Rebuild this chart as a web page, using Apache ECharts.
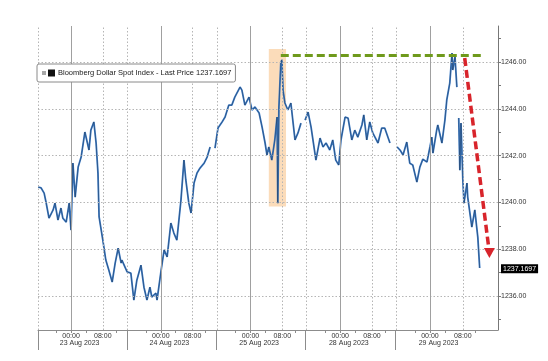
<!DOCTYPE html>
<html><head><meta charset="utf-8">
<script src="https://cdn.jsdelivr.net/npm/echarts@6/dist/echarts.min.js"></script>
<style>html,body{margin:0;padding:0;background:#fff}#c{width:548px;height:361px}</style>
</head><body><div id="c"></div>
<script>
// x = trading hours since 22 Aug 2023 00:00 (weekend removed)
const hours = [15.2,16.0,16.8,17.3,18.1,19.2,19.7,20.5,21.3,21.8,22.7,23.5,24.0,24.5,25.1,25.9,26.7,27.7,28.8,29.3,30.1,30.7,31.2,31.5,32.5,33.3,34.1,35.0,35.8,36.6,37.4,37.6,39.0,40.0,40.8,41.6,42.7,43.5,44.3,45.1,45.6,46.7,47.0,48.1,48.9,49.7,50.7,51.5,52.3,53.4,54.2,54.7,55.5,56.1,56.9,57.7,58.5,59.6,60.4,61.2,61.8,62.5,63.3,64.4,65.2,66.2,67.0,67.8,69.2,69.7,70.5,71.6,72.4,73.2,74.3,75.1,75.9,76.4,76.9,77.7,78.5,79.1,79.3,79.6,80.1,80.4,80.7,81.2,82.0,82.8,83.9,84.7,85.5,86.0,86.6,87.4,88.2,89.5,90.6,91.4,92.2,93.2,94.0,94.8,95.6,96.2,97.3,98.1,99.1,99.9,100.7,101.8,102.3,103.1,103.9,104.7,106.1,107.1,107.9,109.3,110.2,111.2,112.0,112.8,113.8,114.6,115.4,116.5,117.3,118.1,119.2,120.0,120.5,120.8,121.8,122.1,123.2,124.0,124.5,125.3,125.9,126.1,126.7,127.2,127.5,127.7,128.0,128.3,128.8,129.1,129.9,130.1,131.2,132.0,132.5,132.8,133.3];
const price = [1240.66,1240.62,1240.40,1240.02,1239.33,1239.68,1239.97,1239.25,1239.76,1239.33,1239.16,1239.97,1238.82,1241.68,1240.23,1241.51,1241.94,1243.01,1242.24,1243.09,1243.44,1242.54,1241.26,1239.38,1238.39,1237.54,1237.11,1236.60,1237.41,1238.05,1237.41,1237.54,1237.03,1236.98,1235.83,1236.68,1237.32,1236.38,1235.83,1236.38,1235.96,1236.13,1235.83,1237.11,1237.97,1237.67,1239.12,1238.69,1238.39,1240.10,1241.81,1240.96,1239.97,1239.55,1240.83,1241.26,1241.47,1241.68,1241.94,1242.37,null,1242.32,1243.18,1243.44,1243.65,1244.16,1244.16,1244.50,1244.93,1244.80,1244.16,1244.50,1243.95,1244.08,1243.82,1243.22,1242.54,1242.03,1242.37,1241.81,1242.67,1243.65,1239.97,1244.08,1245.96,1246.09,1244.80,1244.25,1243.95,1244.25,1242.67,1242.97,1243.39,null,1243.52,1243.86,1243.22,1241.81,1242.75,1242.37,1242.54,1242.24,1242.67,1241.81,1241.60,1242.67,1243.65,1243.60,1242.67,1243.09,1242.79,1243.31,1243.74,1242.67,1243.44,1242.97,1242.54,1243.18,1243.18,1242.54,null,1242.37,1242.24,1242.03,1242.58,1241.68,1241.60,1240.87,1241.51,1241.85,1241.73,1242.37,1242.79,1242.11,1243.09,1243.31,1242.54,1243.52,1244.38,1245.10,1246.38,1245.66,1246.21,1244.93,null,1243.61,1241.38,1243.39,1240.96,1239.97,1240.83,1240.23,1238.95,1239.68,1238.95,1238.52,1237.20];
const lastPrice = 1237.1697;
const seriesName = 'Bloomberg Dollar Spot Index - Last Price ' + lastPrice;

const xMin = 15.16, xMax = 138.2;
const yMin = 1234.55, yMax = 1247.54;
const midnights = [24, 48, 72, 96, 120];
const eights = [32.5, 56.5, 80.5, 104.5, 128.8];
const sessionBreaks = [39, 63, 87, 111];
const labelBreaks = [15.2, 39, 62.8, 86.6, 110.6];
const dateLabels = ['23 Aug 2023', '24 Aug 2023', '25 Aug 2023', '28 Aug 2023', '29 Aug 2023'];
const dateLabelPos = [26.3, 50.3, 74.3, 98.3, 122.3];
const minorTicks = [20, 28, 36, 44, 52, 60, 68, 76, 84, 92, 100, 108, 116, 124, 132];
const yLabels = [1236, 1238, 1240, 1242, 1244, 1246];
const yTicks = [1235, 1236, 1237, 1238, 1239, 1240, 1241, 1242, 1243, 1244, 1245, 1246, 1247];
// annotations
const highlightBox = { x: [76.9, 81.5], y: [1239.83, 1246.56] };
const resistance = { x: [80.1, 134.4], y: 1246.27 };
const dropArrow = { from: [129.3, 1246.17], to: [135.9, 1237.84] };

const FONT = 'Liberation Sans';
const data = hours.map((h, i) => [h, price[i] === null ? '-' : price[i]]);

const gridLines = [];
yLabels.forEach(v => gridLines.push({ yAxis: v, lineStyle: { color: '#b5b5b5', type: [1.5, 2], width: 1 } }));
midnights.forEach(v => gridLines.push({ xAxis: v, lineStyle: { color: '#a0a0a0', type: 'solid', width: 1 } }));
eights.concat(sessionBreaks).forEach(v => gridLines.push({ xAxis: v, lineStyle: { color: '#b5b5b5', type: [1.5, 2], width: 1 } }));
gridLines.push({ xAxis: xMin + 0.1, lineStyle: { color: '#b5b5b5', type: [1.5, 2], width: 1 } });

const chart = echarts.init(document.getElementById('c'), null, { renderer: 'canvas' });
chart.setOption({
  animation: false,
  backgroundColor: '#fff',
  textStyle: { fontFamily: FONT },
  grid: { left: 38, right: 50, top: 26, bottom: 31, containLabel: false },
  legend: {
    left: 37, top: 64, z: 20, zlevel: 0,
    data: [{ name: seriesName, icon: 'none' }],
    itemWidth: 0, itemHeight: 0, itemGap: 0,
    borderColor: '#8a8a8a', borderWidth: 1, borderRadius: 2,
    backgroundColor: '#fff', padding: [3, 4, 3, 0],
    selectedMode: false,
    formatter: n => '{g|}{s|}{b|}{t|' + n + '}',
    textStyle: {
      rich: {
        g: { width: 4, height: 4, backgroundColor: '#a8a8a8' },
        s: { width: 2 },
        b: { width: 7, height: 7, backgroundColor: '#111' },
        t: { fontSize: 7.5, color: '#1a1a1a', fontFamily: FONT, padding: [0, 0, 0, 3] }
      }
    }
  },
  xAxis: [{
    type: 'value', min: xMin, max: xMax, position: 'bottom',
    axisLine: { show: true, lineStyle: { color: '#8c8c8c', width: 1 } },
    axisTick: { show: true, length: 3, customValues: minorTicks.concat(midnights), lineStyle: { color: '#8c8c8c' } },
    axisLabel: {
      customValues: midnights.concat(eights), margin: 3, fontSize: 7, color: '#333', fontFamily: FONT,
      formatter: v => (midnights.indexOf(v) >= 0 ? '00:00' : '08:00')
    },
    splitLine: { show: false }
  }, {
    type: 'value', min: xMin, max: xMax, position: 'bottom',
    axisLine: { show: false },
    axisTick: { show: true, length: 20, customValues: labelBreaks, lineStyle: { color: '#8c8c8c' } },
    axisLabel: {
      customValues: dateLabelPos, margin: 10, fontSize: 7, color: '#333', fontFamily: FONT,
      formatter: v => dateLabels[dateLabelPos.indexOf(v)]
    },
    splitLine: { show: false }
  }],
  yAxis: {
    type: 'value', min: yMin, max: yMax, position: 'right', scale: true,
    axisLine: { show: true, lineStyle: { color: '#777', width: 1 } },
    axisTick: { show: true, length: 3, customValues: yTicks, lineStyle: { color: '#777' } },
    axisLabel: {
      customValues: yLabels.concat([lastPrice]), margin: 3, fontSize: 7, color: '#333', fontFamily: FONT,
      formatter: v => (v === lastPrice ? '{last|' + v.toFixed(4) + '}' : v.toFixed(2)),
      rich: { last: { backgroundColor: '#000', color: '#fff', fontSize: 7, padding: [1, 2, 1, 2], fontFamily: FONT } }
    },
    splitLine: { show: false }
  },
  series: [{
    type: 'line', name: 'grid', data: [], z: 1, silent: true,
    markLine: { silent: true, symbol: ['none', 'none'], label: { show: false }, animation: false, data: gridLines },
    markArea: {
      silent: true, itemStyle: { color: 'rgba(248,196,140,0.6)' },
      data: [[{ xAxis: highlightBox.x[0], yAxis: highlightBox.y[0] }, { xAxis: highlightBox.x[1], yAxis: highlightBox.y[1] }]]
    }
  }, {
    type: 'line', name: seriesName, data: data, z: 3, showSymbol: false, connectNulls: false,
    lineStyle: { color: '#3f7fcc', width: 1.8 }, itemStyle: { color: '#3f7fcc' }
  }, {
    type: 'line', name: 'overlay', data: data, z: 4, showSymbol: false, connectNulls: false,
    lineStyle: { color: '#0d0d0d', width: 0.6, opacity: 0.55 }
  }, {
    type: 'line', name: 'annot', data: [], z: 5, silent: true,
    markLine: {
      silent: true, label: { show: false }, animation: false,
      data: [
        [{ coord: [resistance.x[0], resistance.y], symbol: 'none', lineStyle: { color: '#6f9a1c', width: 3, type: [8, 4] } },
         { coord: [resistance.x[1], resistance.y], symbol: 'none' }],
        [{ coord: dropArrow.from, symbol: 'none', lineStyle: { color: '#d8242b', width: 3.5, type: [8, 4] } },
         { coord: dropArrow.to, symbol: 'triangle', symbolSize: [11, 10], symbolRotate: 180 }]
      ]
    }
  }]
});
</script></body></html>
